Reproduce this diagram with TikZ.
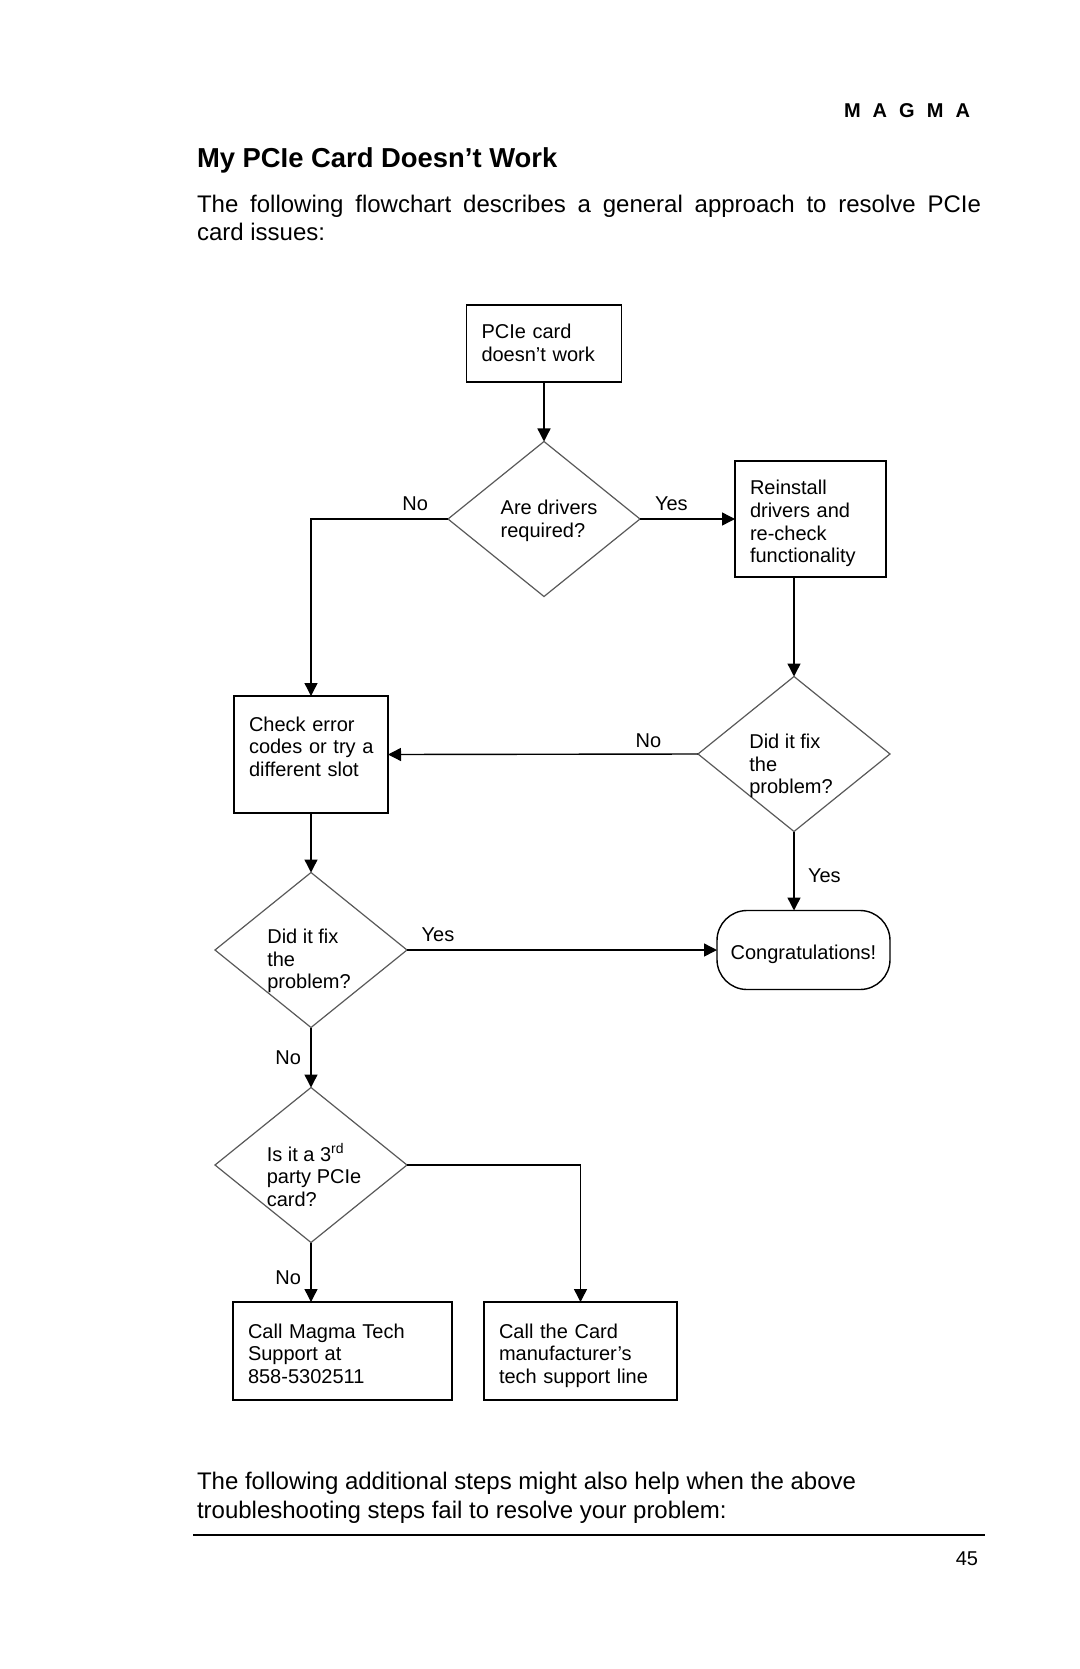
\documentclass[tikz,border=0pt]{standalone}
\usepackage{fontspec}
\setmainfont{Liberation Sans}
\usetikzlibrary{shapes.geometric,arrows.meta}
\definecolor{diagray}{gray}{0.35}
\newcommand{\chartfont}{\fontsize{10}{11.3}\selectfont}
\newcommand{\topstrut}{\rule{0pt}{12pt}}
\newcommand{\botstrut}{\rule[-2.3pt]{0pt}{2.3pt}}

\begin{document}
\begin{tikzpicture}[x=0.5pt,y=-0.5pt,inner sep=0pt,outer sep=0pt,line width=0.7pt,
>={Triangle[length=6.5pt,width=6.5pt]},
stepbox/.style={draw,rectangle,inner xsep=7.5pt,inner ysep=0pt,align=left,font=\chartfont,
  execute at begin node=\topstrut,execute at end node=\botstrut},
decision/.style={draw=diagray,diamond,line width=0.6pt,minimum width=96pt,minimum height=77.5pt},
endblock/.style={draw,rectangle,rounded corners=15pt,minimum width=86.5pt,minimum height=39.5pt,font=\chartfont,
  execute at begin node=\topstrut,execute at end node=\botstrut},
qtext/.style={align=left,font=\chartfont},
lbl/.style={font=\chartfont}]
\fill[white] (0,0) rectangle (1080,1669);
% page text
\draw (970,118) node[anchor=base east,font=\bfseries\fontsize{10}{12}\selectfont] (brand) {\makebox[63pt][s]{M\hfill A\hfill G\hfill M\hfill A}};
\draw (197,168) node[anchor=base west,font=\bfseries\fontsize{13.7}{16}\selectfont] (title) {My PCIe Card Doesn’t Work};
\draw (197,213) node[anchor=base west,text width=392pt,align=justify,font=\fontsize{12}{14}\selectfont] (intro) {The following flowchart describes a general approach to resolve PCIe\linebreak card issues:};
\draw (197,1518) node[anchor=base west,align=left,font=\fontsize{12}{14.5}\selectfont] (outro) {The following additional steps might also help when the above\\troubleshooting steps fail to resolve your problem:};
\draw[line width=1pt] (193,1535) -- (985,1535);
\draw (978,1565) node[anchor=base east,font=\fontsize{10}{12}\selectfont] (pagenum) {45};
% boxes
\draw (544,343.5) node[stepbox,text width=62.5pt,minimum height=38.5pt,
  execute at end node={\rule[-5.3pt]{0pt}{5.3pt}}] (start) {PCIe card\\doesn't work};
\draw (810.5,519) node[stepbox,text width=60.5pt,minimum height=58pt] (rein) {Reinstall\\drivers and\\re-check\\functionality};
\draw (311,754.5) node[stepbox,text width=62pt,minimum height=58.5pt,
  execute at end node={\rule[-12.8pt]{0pt}{12.8pt}}] (chk) {Check error\\\mbox{codes or try a}\\different slot};
\draw (342.5,1351) node[stepbox,text width=94.5pt,minimum height=49pt] (magma) {Call Magma Tech\\Support at\\858-5302511};
\draw (580.5,1351) node[stepbox,text width=81.5pt,minimum height=49pt] (card) {Call the Card\\manufacturer's\\tech support line};
\draw (803.5,950) node[endblock] (congr) {Congratulations!};
% decisions
\draw (544,519) node[decision] (drv) {};
\draw (549,521) node[qtext] (drvtext) {Are drivers\\required?};
\draw (794,754) node[decision] (fix1) {};
\draw (791,766) node[qtext] (fix1text) {Did it fix\\the\\problem?};
\draw (311,950) node[decision] (fix2) {};
\draw (309,961) node[qtext] (fix2text) {Did it fix\\the\\problem?};
\draw (311,1165) node[decision] (third) {};
\draw (314,1175) node[qtext] (thirdtext) {Is it a 3\textsuperscript{rd}\\party PCIe\\card?};
% connectors
\draw[->] (start) -- (drv);
\draw[->] (drv.west) -| node[lbl,pos=0.12,above=4pt] (nodrv) {No} (chk.north);
\draw[->] (drv.east) -- node[lbl,pos=0.33,above=4pt] (yesdrv) {Yes} (rein.west);
\draw[->] (rein.south -| fix1) -- (fix1.north);
\draw[->] (fix1.west) -- node[lbl,pos=0.16,above=3pt] (nofix1) {No} (chk.east);
\draw[->] (fix1.south) -- node[lbl,pos=0.56,right=7pt] (yesfix1) {Yes} (fix1.south |- congr.north);
\draw[->] (chk) -- (fix2);
\draw[->] (fix2.east) -- node[lbl,pos=0.1,above=4pt] (yesfix2) {Yes} (congr.west);
\draw[->] (fix2) -- node[lbl,left=5pt] (nofix2) {No} (third);
\draw[->] (third.south) -- node[lbl,pos=0.6,left=5pt] (nothird) {No} (third.south |- magma.north);
\draw[->] (third.east) -| (card.north);
\end{tikzpicture}
\end{document}
